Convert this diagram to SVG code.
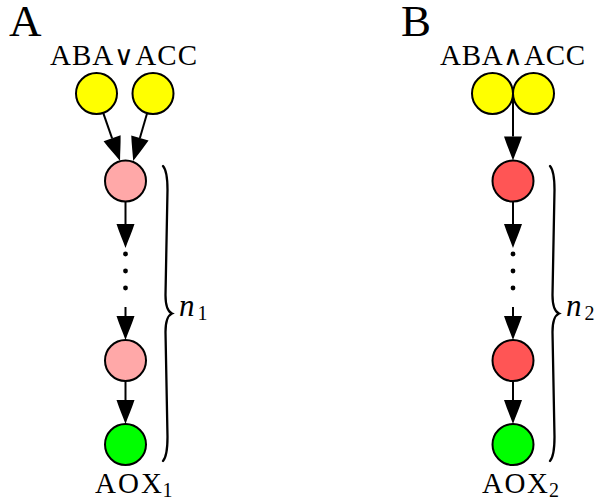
<svg xmlns="http://www.w3.org/2000/svg" width="597" height="501" viewBox="0 0 597 501">
  <style>
    .node { stroke: #000; stroke-width: 2; }
    .yellow { fill: #ffff00; }
    .pink { fill: #ffa8a8; }
    .red { fill: #ff5555; }
    .green { fill: #00ff00; }
    .edge { stroke: #000; stroke-width: 2; fill: none; marker-end: url(#tip); }
    .brace { stroke: #000; stroke-width: 2.3; fill: none; stroke-linecap: round; }
    .lbl { font-family: "Liberation Serif", "DejaVu Serif", serif; fill: #000; }
    .panel { font-size: 45px; }
    .name { font-size: 29px; }
    .op { font-family: "DejaVu Sans", sans-serif; font-weight: 200; font-size: 27px; }
    .sub { font-size: 20px; }
    .var { font-size: 31px; font-style: italic; }
  </style>
  <defs>
    <!-- slender arrowhead; its base sits at the line end -->
    <marker id="tip" markerUnits="userSpaceOnUse" markerWidth="26" markerHeight="20" refX="0" refY="9" orient="auto" overflow="visible">
      <path d="M0,0 C8.5,2.8 16,6.1 24,9 C16,11.9 8.5,15.2 0,18 Z" fill="#000"/>
    </marker>
  </defs>

  <!-- panel letters -->
  <text class="lbl panel" x="9" y="36">A</text>
  <text class="lbl panel" x="401" y="36">B</text>

  <!-- panel A -->
  <g id="inputA">
    <text class="lbl name" x="50" y="65" textLength="147" lengthAdjust="spacing">ABA<tspan class="op">∨</tspan>ACC</text>
  </g>
  <g id="aba1"><circle class="node yellow" cx="96.5" cy="93.5" r="20.5"/></g>
  <g id="acc1"><circle class="node yellow" cx="153" cy="93.5" r="20.5"/></g>
  <g id="a1"><circle class="node pink" cx="125.5" cy="181" r="20.5"/></g>
  <g id="dotsA">
    <circle cx="125.5" cy="254" r="2.4"/>
    <circle cx="125.5" cy="271" r="2.4"/>
    <circle cx="125.5" cy="288" r="2.4"/>
  </g>
  <g id="a2"><circle class="node pink" cx="125.5" cy="360.5" r="20.5"/></g>
  <g id="aox1">
    <circle class="node green" cx="125.5" cy="444.5" r="20.5"/>
    <text class="lbl name" x="95" y="493" textLength="67" lengthAdjust="spacing">AOX</text>
    <text class="lbl sub" x="162.5" y="497">1</text>
  </g>
  <g id="braceA">
    <path class="brace" d="M163,166 C166.5,170 167.5,178 167.5,190 L165.5,295 C165.5,305 167.5,311.5 172,313.5 C167.5,315.5 165.5,322 165.5,332 L167.5,437 C167.5,449 166.5,457 163,461"/>
    <text class="lbl var" x="179" y="315.5">n</text>
    <text class="lbl sub" x="197.5" y="320">1</text>
  </g>

  <!-- panel B -->
  <g id="inputB">
    <text class="lbl name" x="440" y="65" textLength="145" lengthAdjust="spacing">ABA<tspan class="op">∧</tspan>ACC</text>
  </g>
  <g id="aba2"><circle class="node yellow" cx="492.5" cy="93.5" r="20.5"/></g>
  <g id="acc2"><circle class="node yellow" cx="533.5" cy="93.5" r="20.5"/></g>
  <g id="b1"><circle class="node red" cx="513" cy="181" r="20.5"/></g>
  <g id="dotsB">
    <circle cx="513" cy="254" r="2.4"/>
    <circle cx="513" cy="271" r="2.4"/>
    <circle cx="513" cy="288" r="2.4"/>
  </g>
  <g id="b2"><circle class="node red" cx="513" cy="360.5" r="20.5"/></g>
  <g id="aox2">
    <circle class="node green" cx="513" cy="444.5" r="20.5"/>
    <text class="lbl name" x="482" y="493" textLength="66" lengthAdjust="spacing">AOX</text>
    <text class="lbl sub" x="549" y="497">2</text>
  </g>
  <g id="braceB">
    <path class="brace" transform="translate(387,0)" d="M163,166 C166.5,170 167.5,178 167.5,190 L165.5,295 C165.5,305 167.5,311.5 172,313.5 C167.5,315.5 165.5,322 165.5,332 L167.5,437 C167.5,449 166.5,457 163,461"/>
    <text class="lbl var" x="566" y="315.5">n</text>
    <text class="lbl sub" x="584.5" y="320">2</text>
  </g>

  <!-- connectors -->
  <g id="connectors">
    <line class="edge" x1="103.2" y1="112.9" x2="112.1" y2="138.3"/>
    <line class="edge" x1="147.1" y1="113.2" x2="139.9" y2="138"/>
    <line class="edge" x1="125.5" y1="201.5" x2="125.5" y2="224"/>
    <line class="edge" x1="125.5" y1="307" x2="125.5" y2="316"/>
    <line class="edge" x1="125.5" y1="381" x2="125.5" y2="400"/>

    <line class="edge" x1="513" y1="93.5" x2="513" y2="136.5"/>
    <line class="edge" x1="513" y1="201.5" x2="513" y2="224"/>
    <line class="edge" x1="513" y1="307" x2="513" y2="316"/>
    <line class="edge" x1="513" y1="381" x2="513" y2="400"/>
  </g>
</svg>
